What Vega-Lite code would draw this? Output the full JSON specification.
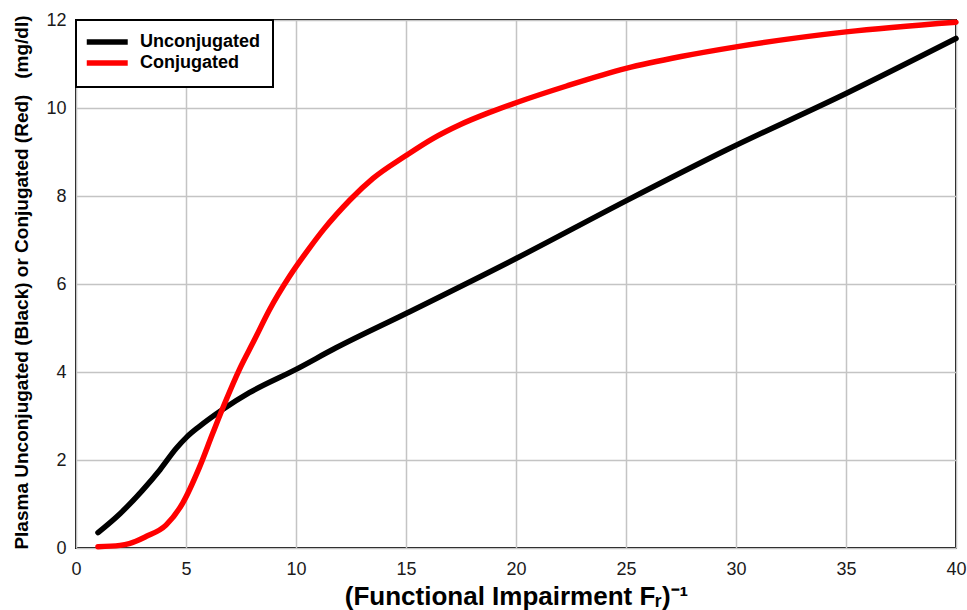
{
  "$schema": "https://vega.github.io/schema/vega-lite/v6.json",
  "width": 880,
  "height": 528,
  "autosize": "none",
  "padding": {"left": 76, "top": 20, "right": 11, "bottom": 62},
  "background": "white",
  "config": {
    "font": "Liberation Sans",
    "view": {"stroke": "#000000", "strokeWidth": 2},
    "legend": {"strokeWidth": 2},
    "axis": {
      "domain": false,
      "ticks": false,
      "grid": true,
      "gridColor": "#c4c4c4",
      "gridWidth": 1.5,
      "labelFlush": false,
      "labelFont": "Liberation Sans",
      "labelFontSize": 18,
      "labelColor": "#1a1a1a",
      "titleFont": "Liberation Sans",
      "titleFontWeight": "bold",
      "titleColor": "#000000"
    }
  },
  "data": {
    "values": [
      {"x": 1, "y": 0.35, "series": "Unconjugated"},
      {"x": 2, "y": 0.78, "series": "Unconjugated"},
      {"x": 3, "y": 1.3, "series": "Unconjugated"},
      {"x": 3.82, "y": 1.78, "series": "Unconjugated"},
      {"x": 4.55, "y": 2.26, "series": "Unconjugated"},
      {"x": 5.03, "y": 2.52, "series": "Unconjugated"},
      {"x": 5.6, "y": 2.76, "series": "Unconjugated"},
      {"x": 6.7, "y": 3.16, "series": "Unconjugated"},
      {"x": 7.88, "y": 3.53, "series": "Unconjugated"},
      {"x": 10, "y": 4.06, "series": "Unconjugated"},
      {"x": 11.82, "y": 4.55, "series": "Unconjugated"},
      {"x": 15, "y": 5.33, "series": "Unconjugated"},
      {"x": 20, "y": 6.58, "series": "Unconjugated"},
      {"x": 25, "y": 7.89, "series": "Unconjugated"},
      {"x": 29.58, "y": 9.05, "series": "Unconjugated"},
      {"x": 35, "y": 10.33, "series": "Unconjugated"},
      {"x": 40, "y": 11.58, "series": "Unconjugated"},
      {"x": 1, "y": 0.03, "series": "Conjugated"},
      {"x": 2, "y": 0.06, "series": "Conjugated"},
      {"x": 2.42, "y": 0.1, "series": "Conjugated"},
      {"x": 3.18, "y": 0.26, "series": "Conjugated"},
      {"x": 4.09, "y": 0.52, "series": "Conjugated"},
      {"x": 4.85, "y": 1.02, "series": "Conjugated"},
      {"x": 5.6, "y": 1.82, "series": "Conjugated"},
      {"x": 6.21, "y": 2.6, "series": "Conjugated"},
      {"x": 6.77, "y": 3.3, "series": "Conjugated"},
      {"x": 7.42, "y": 4.05, "series": "Conjugated"},
      {"x": 8.1, "y": 4.72, "series": "Conjugated"},
      {"x": 8.79, "y": 5.41, "series": "Conjugated"},
      {"x": 9.7, "y": 6.17, "series": "Conjugated"},
      {"x": 10.6, "y": 6.81, "series": "Conjugated"},
      {"x": 11.24, "y": 7.23, "series": "Conjugated"},
      {"x": 11.82, "y": 7.57, "series": "Conjugated"},
      {"x": 12.45, "y": 7.91, "series": "Conjugated"},
      {"x": 13.5, "y": 8.4, "series": "Conjugated"},
      {"x": 15, "y": 8.92, "series": "Conjugated"},
      {"x": 16.2, "y": 9.3, "series": "Conjugated"},
      {"x": 17.45, "y": 9.62, "series": "Conjugated"},
      {"x": 18.8, "y": 9.9, "series": "Conjugated"},
      {"x": 20, "y": 10.12, "series": "Conjugated"},
      {"x": 22.3, "y": 10.5, "series": "Conjugated"},
      {"x": 25, "y": 10.9, "series": "Conjugated"},
      {"x": 27.5, "y": 11.17, "series": "Conjugated"},
      {"x": 30, "y": 11.39, "series": "Conjugated"},
      {"x": 35, "y": 11.73, "series": "Conjugated"},
      {"x": 40, "y": 11.95, "series": "Conjugated"}
    ]
  },
  "mark": {"type": "line", "strokeWidth": 5.5, "interpolate": "monotone", "strokeCap": "round", "strokeJoin": "round"},
  "encoding": {
    "x": {
      "field": "x",
      "type": "quantitative",
      "scale": {"domain": [0, 40], "nice": false, "zero": false},
      "axis": {
        "values": [0, 5, 10, 15, 20, 25, 30, 35, 40],
        "labelPadding": 12,
        "title": "(Functional Impairment Fᵣ)⁻¹",
        "titleFontSize": 26,
        "titleBaseline": "alphabetic",
        "titleX": 440,
        "titleY": 56
      }
    },
    "y": {
      "field": "y",
      "type": "quantitative",
      "scale": {"domain": [0, 12], "nice": false},
      "axis": {
        "values": [0, 2, 4, 6, 8, 10, 12],
        "labelPadding": 10,
        "title": "Plasma Unconjugated (Black) or Conjugated (Red)\u00a0\u00a0\u00a0(mg/dl)",
        "titleFontSize": 19,
        "titleAngle": 270,
        "titleBaseline": "bottom",
        "titleAlign": "center",
        "titleX": -45,
        "titleY": 262
      }
    },
    "color": {
      "field": "series",
      "type": "nominal",
      "scale": {"domain": ["Unconjugated", "Conjugated"], "range": ["#000000", "#ff0000"]},
      "legend": {
        "orient": "top-left",
        "offset": 0,
        "title": null,
        "strokeColor": "#000000",
        "fillColor": "white",
        "padding": 13,
        "symbolType": "M-1.8,0H4.76",
        "symbolSize": 156,
        "symbolStrokeWidth": 5.5,
        "labelFontSize": 18,
        "labelFontWeight": "bold",
        "labelColor": "#000000",
        "labelOffset": 33,
        "rowPadding": -1
      }
    }
  }
}
